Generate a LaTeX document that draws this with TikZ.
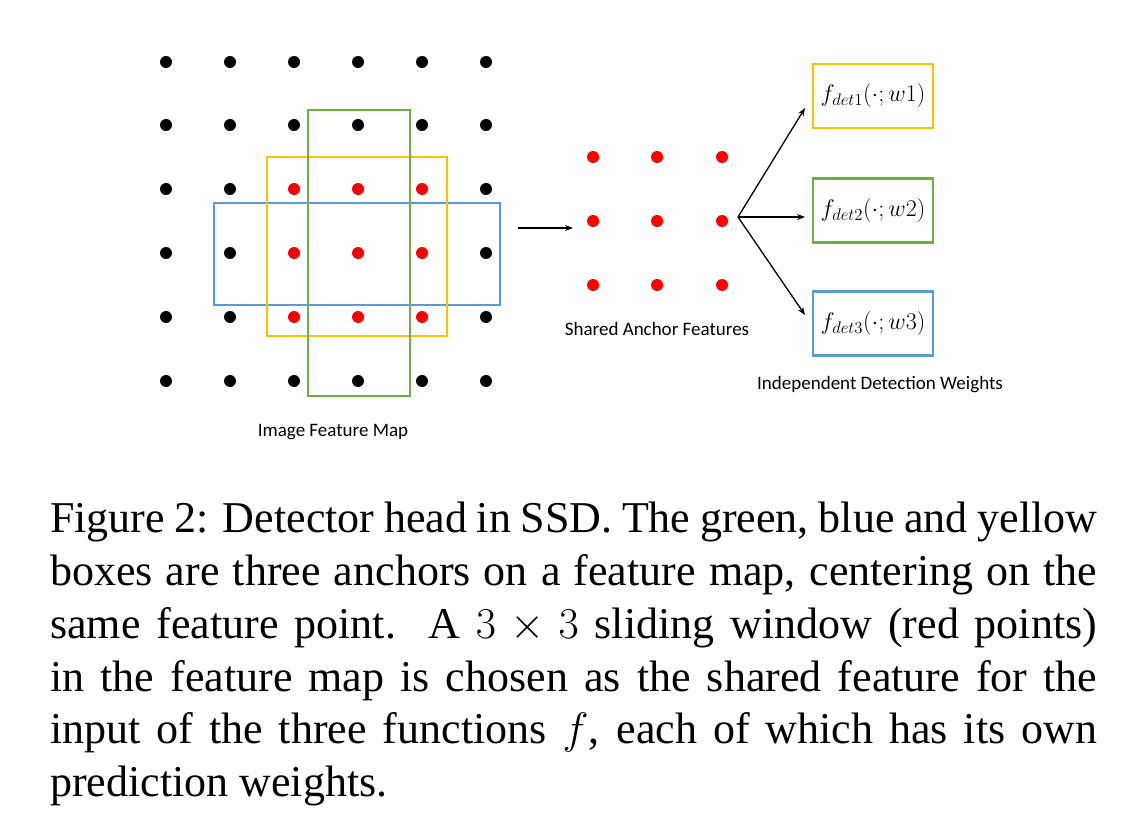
\RequirePackage{fix-cm}
\documentclass[tikz,border=0pt]{standalone}
\usepackage{fontspec}
\setmainfont{Liberation Serif}
\newfontfamily\labelfont{Carlito}
\usetikzlibrary{arrows.meta}
\definecolor{agreen}{HTML}{70AD47}
\definecolor{ayellow}{HTML}{FFC000}
\definecolor{ablue}{HTML}{5B9BD5}
\definecolor{ared}{HTML}{FF0000}
\begin{document}
\begin{tikzpicture}[x=1pt,y=-1pt,
  dot/.style={circle,fill=black,inner sep=0pt,minimum size=12pt},
  rdot/.style={dot,fill=ared},
  anchorbox/.style={draw,line width=2.6pt},
  fbox/.style={draw,line width=2.6pt,minimum width=120pt,minimum height=64pt,inner sep=0pt,font=\fontsize{24}{28}\selectfont},
  lbl/.style={font=\labelfont\fontsize{19}{23}\selectfont,anchor=base,inner sep=0pt},
  arr/.style={-{Stealth[length=8pt,width=6pt]},line width=1.3pt}]
\useasboundingbox[fill=white] (0,0) rectangle (1142,826);

% image feature map grid
\foreach \i/\x in {1/166,2/230,3/294,4/358,5/422,6/486}{
  \foreach \j/\y in {1/62,2/125,3/189,4/253,5/317,6/381}{
    \pgfmathtruncatemacro\isred{and(and(\i>2,\i<6),and(\j>2,\j<6))}
    \ifnum\isred=1
      \node[rdot] (g\i\j) at (\x,\y) {};
    \else
      \node[dot] (g\i\j) at (\x,\y) {};
    \fi
  }
}
% anchor boxes
\draw[anchorbox,ablue] (214,203) rectangle (500,305);
\draw[anchorbox,ayellow] (267,157) rectangle (447,336);
\draw[anchorbox,agreen] (308,110) rectangle (410,396);

\node[lbl] (imap) at (333,436) {Image Feature Map};

% shared anchor features
\foreach \i/\x in {1/593,2/657,3/722}{
  \foreach \j/\y in {1/157,2/221,3/285}{
    \node[rdot] (s\i\j) at (\x,\y) {};
  }
}
\node[lbl] (slbl) at (657,335) {Shared Anchor Features};

\coordinate (a0) at (518,228);
\coordinate (a1) at (573,228);
\draw[arr] (a0) -- (a1);

% detection functions
\node[fbox,draw=ayellow] (f1) at (873,96) {$f_{det1}(\cdot;w1)$};
\node[fbox,draw=agreen] (f2) at (873,210.5) {$f_{det2}(\cdot;w2)$};
\node[fbox,draw=ablue] (f3) at (873,323.5) {$f_{det3}(\cdot;w3)$};
\node[lbl] (wlbl) at (880,389) {Independent Detection Weights};

\coordinate (fo) at (738,217);
\coordinate (e1) at (805,108);
\coordinate (e2) at (805,217);
\coordinate (e3) at (805,315);
\draw[arr] (fo) -- (e1);
\draw[arr] (fo) -- (e2);
\draw[arr] (fo) -- (e3);

% caption
\node[anchor=north west,inner sep=0pt,text width=1047pt,align=justify,
      font=\fontsize{44}{52.8}\selectfont] (cap) at (50,502)
{Figure 2: Detector head in SSD. The green, blue and yellow\linebreak
boxes are three anchors on a feature map, centering on the\linebreak
same feature point.\ \ A $3\times 3$ sliding window (red points)\linebreak
in the feature map is chosen as the shared feature for the\linebreak
input of the three functions $f$, each of which has its own\linebreak
prediction weights.};
\end{tikzpicture}
\end{document}
